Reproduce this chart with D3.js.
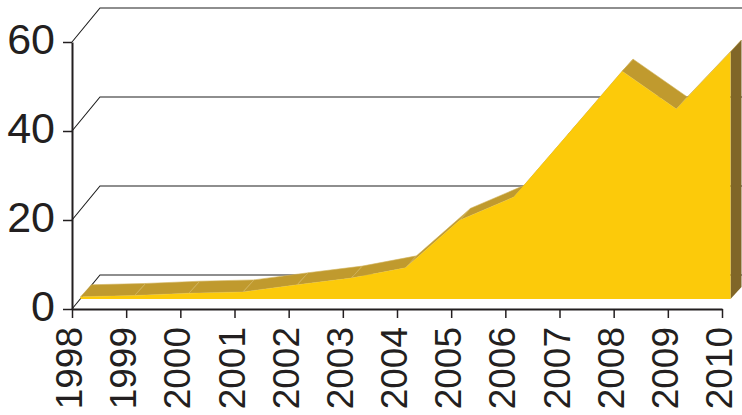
<!DOCTYPE html>
<html>
<head>
	<meta charset="utf-8">
	<script src="https://d3js.org/d3.v7.min.js"></script>
	<style>
		body { margin: 0; background: #fff; }
		text { font-family: "Liberation Sans", Arial, sans-serif; fill: #231f20; }
	</style>
</head>
<body>
	<script type="text/javascript">

		var w = 742;
		var h = 415;

		var years = [1998, 1999, 2000, 2001, 2002, 2003, 2004, 2005, 2006, 2007, 2008, 2009, 2010];
		var values = [0.5, 0.8, 1.3, 1.6, 3.2, 4.7, 7.0, 17.7, 22.9, 37.0, 51.2, 42.7, 55.5];
		var yTicks = [0, 20, 40, 60];

		var svg = d3.select("body")
				.append("svg")
				.attr("width", w)
				.attr("height", h);

		var xScale = d3.scaleLinear()
					.domain([1998, 2010])
					.range([72, 722]);

		var yScale = d3.scaleLinear()
					.domain([0, 60])
					.range([309, 42]);

		// depth offsets (wall, ribbon front, ribbon back)
		var wall = [28, -34];
		var front = [8.5, -10];
		var back = [19.5, -22];

		var data = years.map(function(y, i) { return {year: y, v: values[i]}; });

		function pt(year, v, off) {
			return [xScale(year) + off[0], yScale(v) + off[1]];
		}

		// back wall gridlines + side wall diagonals
		var grid = svg.append("g");
		yTicks.forEach(function(t) {
			var a = pt(1998, t, [0, 0]);
			var b = pt(1998, t, wall);
			var c = pt(2010, t, wall);
			grid.append("path")
				.attr("d", d3.line()([a, b, c]))
				.attr("fill", "none")
				.attr("stroke", "#1e1e1e")
				.attr("stroke-width", 1.1);
		});

		// top surface of the ribbon
		var topG = svg.append("g");
		for (var i = 0; i < data.length - 1; i++) {
			var d0 = data[i], d1 = data[i + 1];
			topG.append("path")
				.attr("d", d3.line()([
					pt(d0.year, d0.v, front),
					pt(d1.year, d1.v, front),
					pt(d1.year, d1.v, back),
					pt(d0.year, d0.v, back)
				]) + "Z")
				.attr("fill", "#c09a2e")
				.attr("stroke", "#d2b35c")
				.attr("stroke-width", 0.6);
		}

		// right end face
		var last = data[data.length - 1];
		svg.append("path")
			.attr("d", d3.line()([
				pt(last.year, last.v, front),
				pt(last.year, 0, front),
				pt(last.year, 0, back),
				pt(last.year, last.v, back)
			]) + "Z")
			.attr("fill", "#806628");

		// front face
		var area = d3.area()
			.x(function(d) { return xScale(d.year) + front[0]; })
			.y0(yScale(0) + front[1])
			.y1(function(d) { return yScale(d.v) + front[1]; });

		svg.append("path")
			.datum(data)
			.attr("d", area)
			.attr("fill", "#fcca0a");

		// axes
		var yAxis = d3.axisLeft(yScale)
			.tickValues(yTicks)
			.tickSize(9)
			.tickSizeOuter(0)
			.tickPadding(8);

		var gy = svg.append("g")
			.attr("transform", "translate(72,0)")
			.call(yAxis);
		gy.selectAll("text")
			.attr("font-size", "43px")
			.attr("dy", "0.26em");

		var xAxis = d3.axisBottom(xScale)
			.tickValues(years)
			.tickFormat(d3.format("d"))
			.tickSize(9)
			.tickSizeOuter(0);

		var gx = svg.append("g")
			.attr("transform", "translate(0,309)")
			.call(xAxis);
		gx.selectAll("text")
			.attr("font-size", "37px")
			.attr("text-anchor", "end")
			.attr("transform", "rotate(-90)")
			.attr("x", -18)
			.attr("y", 9.5)
			.attr("dy", 0);

		svg.selectAll(".domain")
			.attr("stroke", "#231f20")
			.attr("stroke-width", 2);
		svg.selectAll(".tick line")
			.attr("stroke", "#231f20")
			.attr("stroke-width", 1.5);
		svg.selectAll(".tick text")
			.attr("fill", "#231f20")
			.attr("font-family", "Liberation Sans, Arial, sans-serif");

	</script>
</body>
</html>
